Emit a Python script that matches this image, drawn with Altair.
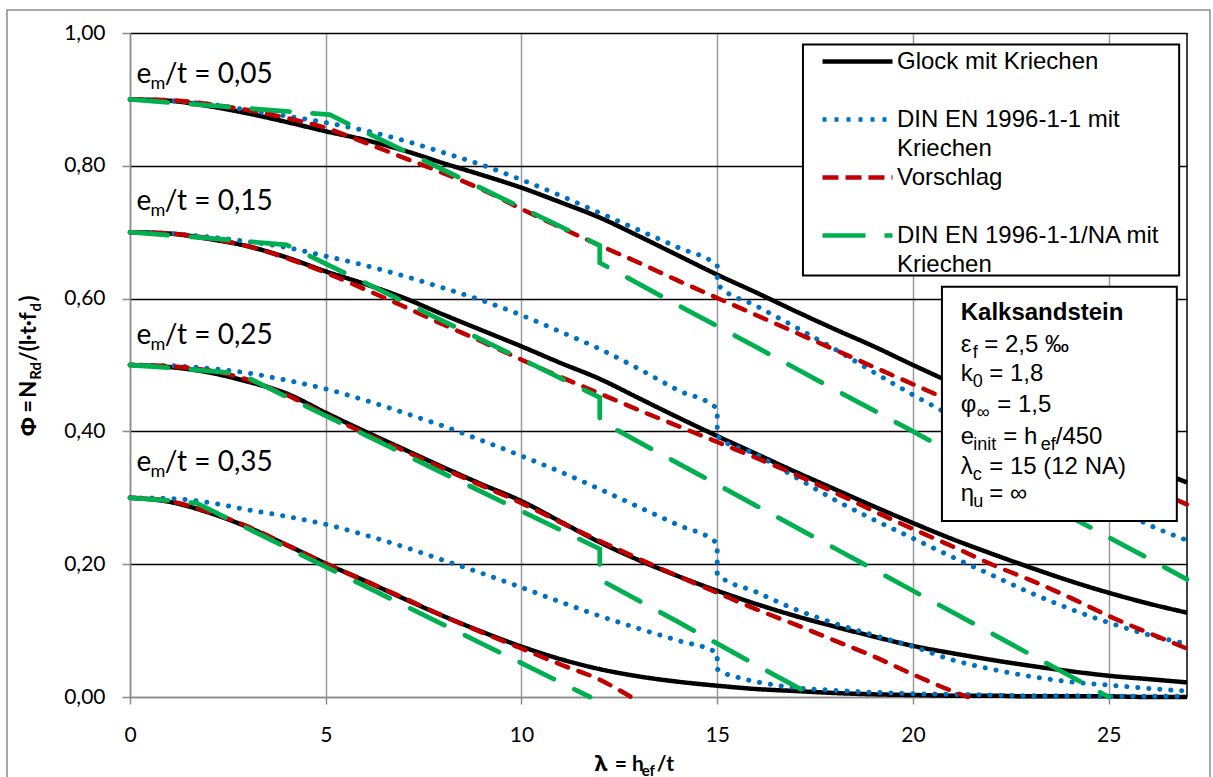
import altair as alt
import pandas as pd

# ---------------- data ----------------
LAM = list(range(28))  # lambda = h_ef/t, 0..27

# Glock mit Kriechen (black, solid)
G_005 = [0.900, 0.898, 0.890, 0.879, 0.866, 0.852, 0.839, 0.823, 0.804, 0.786, 0.767, 0.745, 0.722, 0.694,
         0.665, 0.636, 0.609, 0.581, 0.554, 0.528, 0.500, 0.473, 0.447, 0.421, 0.396, 0.371, 0.347, 0.323]
G_015 = [0.700, 0.698, 0.690, 0.679, 0.662, 0.641, 0.622, 0.601, 0.576, 0.552, 0.528, 0.503, 0.479, 0.450,
         0.421, 0.393, 0.366, 0.339, 0.313, 0.287, 0.262, 0.238, 0.216, 0.195, 0.175, 0.157, 0.141, 0.127]
G_025 = [0.500, 0.497, 0.489, 0.475, 0.457, 0.428, 0.400, 0.373, 0.346, 0.320, 0.295, 0.264, 0.233, 0.206,
         0.182, 0.160, 0.140, 0.122, 0.106, 0.091, 0.077, 0.066, 0.056, 0.047, 0.039, 0.032, 0.027, 0.022]
G_035 = [0.300, 0.294, 0.278, 0.256, 0.229, 0.201, 0.175, 0.148, 0.122, 0.098, 0.076, 0.057, 0.042, 0.031,
         0.023, 0.017, 0.012, 0.009, 0.006, 0.004, 0.003, 0.002, 0.002, 0.001, 0.001, 0.001, 0.000, 0.000]

# DIN EN 1996-1-1 mit Kriechen (blue, dotted) - jump at lambda_c = 15
D_LAM = list(range(16)) + [15] + list(range(16, 28))
D_005 = [0.900, 0.898, 0.893, 0.884, 0.875, 0.865, 0.853, 0.838, 0.820, 0.801, 0.779, 0.755, 0.729, 0.703,
         0.677, 0.649, 0.622, 0.589, 0.557, 0.524, 0.489, 0.455, 0.423, 0.390, 0.357, 0.324, 0.291, 0.260, 0.236]
D_015 = [0.700, 0.698, 0.693, 0.686, 0.677, 0.664, 0.650, 0.634, 0.616, 0.597, 0.575, 0.550, 0.524, 0.494,
         0.462, 0.434, 0.393, 0.365, 0.331, 0.297, 0.267, 0.239, 0.211, 0.184, 0.157, 0.133, 0.112, 0.094, 0.080]
D_025 = [0.500, 0.499, 0.495, 0.488, 0.477, 0.464, 0.447, 0.428, 0.408, 0.386, 0.363, 0.339, 0.313, 0.286,
         0.259, 0.231, 0.185, 0.158, 0.132, 0.111, 0.093, 0.076, 0.056, 0.042, 0.031, 0.023, 0.018, 0.013, 0.009]
D35_LAM = list(range(16)) + [15, 15.5] + list(range(16, 28))
D_035 = [0.300, 0.299, 0.293, 0.282, 0.272, 0.260, 0.244, 0.226, 0.206, 0.186, 0.165, 0.143, 0.122, 0.103,
         0.085, 0.066, 0.042, 0.030, 0.023, 0.014, 0.010, 0.007, 0.005, 0.004, 0.003, 0.002, 0.002, 0.001,
         0.001, 0.001]

# Vorschlag (red, dashed)
V_005 = [0.900, 0.899, 0.893, 0.884, 0.872, 0.857, 0.835, 0.812, 0.789, 0.764, 0.735, 0.707, 0.680, 0.654,
         0.627, 0.601, 0.575, 0.549, 0.523, 0.497, 0.471, 0.445, 0.418, 0.392, 0.366, 0.341, 0.316, 0.290]
V_015 = [0.700, 0.698, 0.691, 0.679, 0.661, 0.639, 0.614, 0.588, 0.561, 0.535, 0.508, 0.482, 0.457, 0.432,
         0.408, 0.384, 0.360, 0.335, 0.308, 0.280, 0.253, 0.227, 0.200, 0.176, 0.150, 0.122, 0.097, 0.073]
V25_LAM = list(range(22)) + [21.4]
V_025 = [0.500, 0.498, 0.492, 0.478, 0.455, 0.425, 0.397, 0.371, 0.344, 0.318, 0.292, 0.263, 0.235, 0.208,
         0.182, 0.157, 0.132, 0.109, 0.085, 0.061, 0.034, 0.009, 0.000]
V35_LAM = list(range(13)) + [12.8]
V_035 = [0.300, 0.295, 0.279, 0.257, 0.229, 0.201, 0.175, 0.149, 0.122, 0.097, 0.073, 0.049, 0.026, 0.000]

# DIN EN 1996-1-1/NA mit Kriechen (green, long dash) - jump at 12
N05_LAM = [0, 2, 4, 5.1, 6, 8, 10, 12, 12, 14, 16, 18, 20, 22, 24, 26, 27]
N_005 = [0.900, 0.891, 0.882, 0.877, 0.851, 0.794, 0.737, 0.680, 0.654, 0.590, 0.527, 0.463, 0.400, 0.336,
         0.272, 0.209, 0.177]
N15_LAM = [0, 2, 4, 6, 8, 10, 12, 12, 14, 16, 18, 20, 22, 24, 25]
N_015 = [0.700, 0.691, 0.681, 0.624, 0.566, 0.509, 0.451, 0.416, 0.352, 0.288, 0.224, 0.160, 0.096, 0.032, 0.000]
N25_LAM = [0, 1, 2, 2.8, 4, 6, 8, 10, 12, 12, 14, 16, 17.5]
N_025 = [0.500, 0.496, 0.491, 0.487, 0.452, 0.395, 0.337, 0.280, 0.223, 0.177, 0.113, 0.048, 0.000]
N35_LAM = [0, 1, 1.7, 4, 6, 8, 10, 11.75]
N_035 = [0.300, 0.296, 0.292, 0.225, 0.167, 0.109, 0.051, 0.000]

SERIES = ["Glock mit Kriechen", "DIN EN 1996-1-1 mit Kriechen", "Vorschlag",
          "DIN EN 1996-1-1/NA mit Kriechen"]
LEGEND_LINES = [["Glock mit Kriechen", " "], ["DIN EN 1996-1-1 mit", "Kriechen"],
                ["Vorschlag", " "], ["DIN EN 1996-1-1/NA mit", "Kriechen"]]
COLORS = ["#000000", "#0070C0", "#C00000", "#00B050"]
LEGEND_DASH = [[1, 0], [4, 8], [16, 7], [43, 19]]

ECC_TEXT = ["0,05", "0,15", "0,25", "0,35"]
ECC_PHI = [0.925, 0.733, 0.532, 0.340]

BOX_TITLE = "Kalksandstein"
BOX_PHI = [0.5675, 0.5193, 0.4757, 0.4290, 0.3804, 0.3363, 0.2951]

curves = [
    (SERIES[0], "0,05", LAM, G_005), (SERIES[0], "0,15", LAM, G_015),
    (SERIES[0], "0,25", LAM, G_025), (SERIES[0], "0,35", LAM, G_035),
    (SERIES[1], "0,05", D_LAM, D_005), (SERIES[1], "0,15", D_LAM, D_015),
    (SERIES[1], "0,25", D_LAM, D_025), (SERIES[1], "0,35", D35_LAM, D_035),
    (SERIES[2], "0,05", LAM, V_005), (SERIES[2], "0,15", LAM, V_015),
    (SERIES[2], "0,25", V25_LAM, V_025), (SERIES[2], "0,35", V35_LAM, V_035),
    (SERIES[3], "0,05", N05_LAM, N_005), (SERIES[3], "0,15", N15_LAM, N_015),
    (SERIES[3], "0,25", N25_LAM, N_025), (SERIES[3], "0,35", N35_LAM, N_035),
]
rows = []
for s, e, lam, phi in curves:
    for i, (l, p) in enumerate(zip(lam, phi)):
        rows.append({"series": s, "curve": s + " " + e, "idx": i, "lam": l, "phi": p})
df = pd.DataFrame(rows)

# ---------------- scales / axes ----------------
W, H = 1057, 664
XSC = alt.Scale(domain=[0, 27], nice=False, zero=False)
YSC = alt.Scale(domain=[0, 1], nice=False, zero=False)

x_axis = alt.Axis(values=[0, 5, 10, 15, 20, 25], title=None, grid=True, gridColor="#9a9a9a",
                  gridWidth=1.5, domainColor="#8a8a8a", domainWidth=1.5, tickColor="#8a8a8a",
                  tickSize=7, tickWidth=1.5, labelFont="Lato", labelFontSize=21, labelColor="black",
                  labelPadding=20, labelFlush=False)
y_axis = alt.Axis(values=[0, 0.2, 0.4, 0.6, 0.8, 1.0], title=None, grid=True,
                  gridColor=alt.condition("datum.value == 0", alt.value("#8a8a8a"), alt.value("black")),
                  gridWidth=1.5, domainColor="#8a8a8a", domainWidth=1.5, tickColor="#8a8a8a",
                  tickSize=8, tickWidth=1.5, labelFont="Lato", labelFontSize=21, labelColor="black",
                  labelPadding=17, labelFlush=False,
                  labelExpr="replace(format(datum.value, '.2f'), '.', ',')")

X = alt.X("lam:Q", scale=XSC, axis=x_axis)
Y = alt.Y("phi:Q", scale=YSC, axis=y_axis)

label_expr = ""
for name, lines in zip(SERIES, LEGEND_LINES):
    label_expr += "datum.label == '%s' ? ['%s', '%s'] : " % (name, lines[0], lines[1])
label_expr += "datum.label"

# custom horizontal line symbol: 70 px long at size 400 (scale = sqrt(size)/2 = 10)
LEG = alt.Legend(orient="none", legendX=715, legendY=16, title=None, symbolType="M-3.5,0H3.5",
                 symbolSize=400, symbolStrokeWidth=4.3, symbolFillColor="transparent",
                 labelFont="Liberation Sans",
                 labelFontSize=24, labelColor="black", labelLimit=500, labelExpr=label_expr,
                 labelBaseline="middle", labelOffset=27, rowPadding=4, padding=0,
                 direction="vertical")


def line_layer(series, color, width, dash, cap, interp, legend=False):
    d = df[df.series == series]
    enc = dict(x=X, y=Y, detail="curve:N", order="idx:Q")
    if legend:
        enc["color"] = alt.Color("series:N", scale=alt.Scale(domain=SERIES, range=COLORS), legend=LEG)
        enc["strokeDash"] = alt.StrokeDash("series:N", scale=alt.Scale(domain=SERIES, range=LEGEND_DASH),
                                           legend=LEG)
        mark = alt.Chart(d).mark_line(strokeWidth=width, strokeCap=cap, interpolate=interp)
    else:
        enc["color"] = alt.value(color)
        mark = alt.Chart(d).mark_line(strokeWidth=width, strokeDash=dash, strokeCap=cap,
                                      interpolate=interp)
    return mark.encode(**enc)


ONE = pd.DataFrame({"k": [0]})


def txt(text, x, y, dx=0, dy=0, size=24, font="Liberation Sans", weight="normal", angle=0,
        pixel=False):
    m = alt.Chart(ONE).mark_text(text=text, align="left", baseline="alphabetic", dx=dx, dy=dy,
                                 fontSize=size, font=font, fontWeight=weight, angle=angle,
                                 color="black")
    if pixel:
        return m.encode(x=alt.value(x), y=alt.value(y))
    return m.encode(x=alt.X(datum=x, scale=XSC), y=alt.Y(datum=y, scale=YSC))


layers = []
# outer chart frame
layers.append(alt.Chart(ONE).mark_rect(fill="white", fillOpacity=0, stroke="#8c8c8c", strokeWidth=1.5)
              .encode(x=alt.value(-123), x2=alt.value(1080), y=alt.value(-23), y2=alt.value(790)))
# right border of the plot area
layers.append(alt.Chart(ONE).mark_rule(color="black", strokeWidth=1.5)
              .encode(x=alt.value(W), y=alt.value(0), y2=alt.value(H)))

layers.append(line_layer(SERIES[0], COLORS[0], 4.5, None, "butt", "monotone", legend=True))
layers.append(line_layer(SERIES[1], COLORS[1], 5.0, [0.1, 10.9], "round", "monotone"))
layers.append(line_layer(SERIES[2], COLORS[2], 4.5, [12, 11], "round", "monotone"))
layers.append(line_layer(SERIES[3], COLORS[3], 4.8, [38, 23], "round", "linear"))

# legend frame (legend itself is drawn by Vega-Lite)
layers.append(alt.Chart(ONE).mark_rect(fill="white", stroke="black", strokeWidth=2)
              .encode(x=alt.X(datum=17.19, scale=XSC), x2=alt.X2(datum=26.80),
                      y=alt.Y(datum=0.9826, scale=YSC), y2=alt.Y2(datum=0.6348)))
# material box
layers.append(alt.Chart(ONE).mark_rect(fill="white", stroke="black", strokeWidth=2)
              .encode(x=alt.X(datum=20.74, scale=XSC), x2=alt.X2(datum=26.74),
                      y=alt.Y(datum=0.6178, scale=YSC), y2=alt.Y2(datum=0.2649)))

# e_m/t labels
for e_txt, e_phi in zip(ECC_TEXT, ECC_PHI):
    layers.append(txt("e", 0.164, e_phi, size=28, font="Lato"))
    layers.append(txt("m", 0.164, e_phi, dx=14, dy=6, size=18, font="Lato"))
    layers.append(txt("/t = " + e_txt, 0.164, e_phi, dx=28.3, size=28, font="Lato"))

# box text (SVG drops leading spaces, so gaps are given as dx)
BX = 21.22
SUB = 18
layers.append(txt(BOX_TITLE, BX, BOX_PHI[0], weight="bold"))
layers.append(txt("\u03b5", BX, BOX_PHI[1]))
layers.append(txt("f", BX, BOX_PHI[1], dx=12, dy=6, size=SUB))
layers.append(txt("= 2,5 \u2030", BX, BOX_PHI[1], dx=23.5))
layers.append(txt("k", BX, BOX_PHI[2]))
layers.append(txt("0", BX, BOX_PHI[2], dx=12, dy=6, size=SUB))
layers.append(txt("= 1,8", BX, BOX_PHI[2], dx=28.5))
layers.append(txt("\u03c6", BX, BOX_PHI[3]))
layers.append(txt("\u221e", BX, BOX_PHI[3], dx=16, dy=6, size=SUB))
layers.append(txt("= 1,5", BX, BOX_PHI[3], dx=36.5))
layers.append(txt("e", BX, BOX_PHI[4]))
layers.append(txt("init", BX, BOX_PHI[4], dx=12.5, dy=6, size=SUB))
layers.append(txt("= h", BX, BOX_PHI[4], dx=42.5))
layers.append(txt("ef", BX, BOX_PHI[4], dx=80, dy=6, size=SUB))
layers.append(txt("/450", BX, BOX_PHI[4], dx=95))
layers.append(txt("\u03bb", BX, BOX_PHI[5]))
layers.append(txt("c", BX, BOX_PHI[5], dx=12, dy=6, size=SUB))
layers.append(txt("= 15 (12 NA)", BX, BOX_PHI[5], dx=28.5))
layers.append(txt("\u03b7", BX, BOX_PHI[6]))
layers.append(txt("u", BX, BOX_PHI[6], dx=12.5, dy=6, size=SUB))
layers.append(txt("= \u221e", BX, BOX_PHI[6], dx=28.5))

# x-axis title: lambda = h_ef/t
XT_X, XT_Y = 464.7, 737.7
layers.append(txt("\u03bb", XT_X, XT_Y, size=22, font="Noto Sans", weight="bold", pixel=True))
layers.append(txt("= h", XT_X, XT_Y, dx=20, size=21, font="Lato", weight="bold", pixel=True))
layers.append(txt("ef", XT_X, XT_Y, dx=47, dy=5, size=15, font="Lato", weight="bold", pixel=True))
layers.append(txt("/t", XT_X, XT_Y, dx=62, size=21, font="Lato", weight="bold", pixel=True))

# y-axis title: Phi = N_Rd/(l.t.f_d), rotated
YT_X, YT_Y = -93.6, 403.4
for piece, ddx, ddy, sz, fnt in [("\u03a6", 0, 0, 22, "Noto Sans"), ("=", 23.7, 0, 22, "Lato"),
                                  ("N", 38.7, 0, 22, "Lato"), ("Rd", 56.7, 5, 15, "Lato"),
                                  ("/(l\u00b7t\u00b7f", 75, 0, 22, "Lato"), ("d", 125, 5, 15, "Lato"),
                                  (")", 135, 0, 22, "Lato")]:
    layers.append(txt(piece, YT_X, YT_Y, dx=ddx, dy=ddy, size=sz, font=fnt, weight="bold",
                      angle=270, pixel=True))

chart = alt.layer(*layers).properties(
    width=W, height=H,
    padding={"left": 130, "top": 33, "right": 26, "bottom": 80},
    autosize=alt.AutoSizeParams(type="none"),
    background="white",
).configure(style={"guide-label": {"lineHeight": 29}}).configure_view(stroke=None)

chart.save("out.html", embed_options={"renderer": "svg", "actions": False})
